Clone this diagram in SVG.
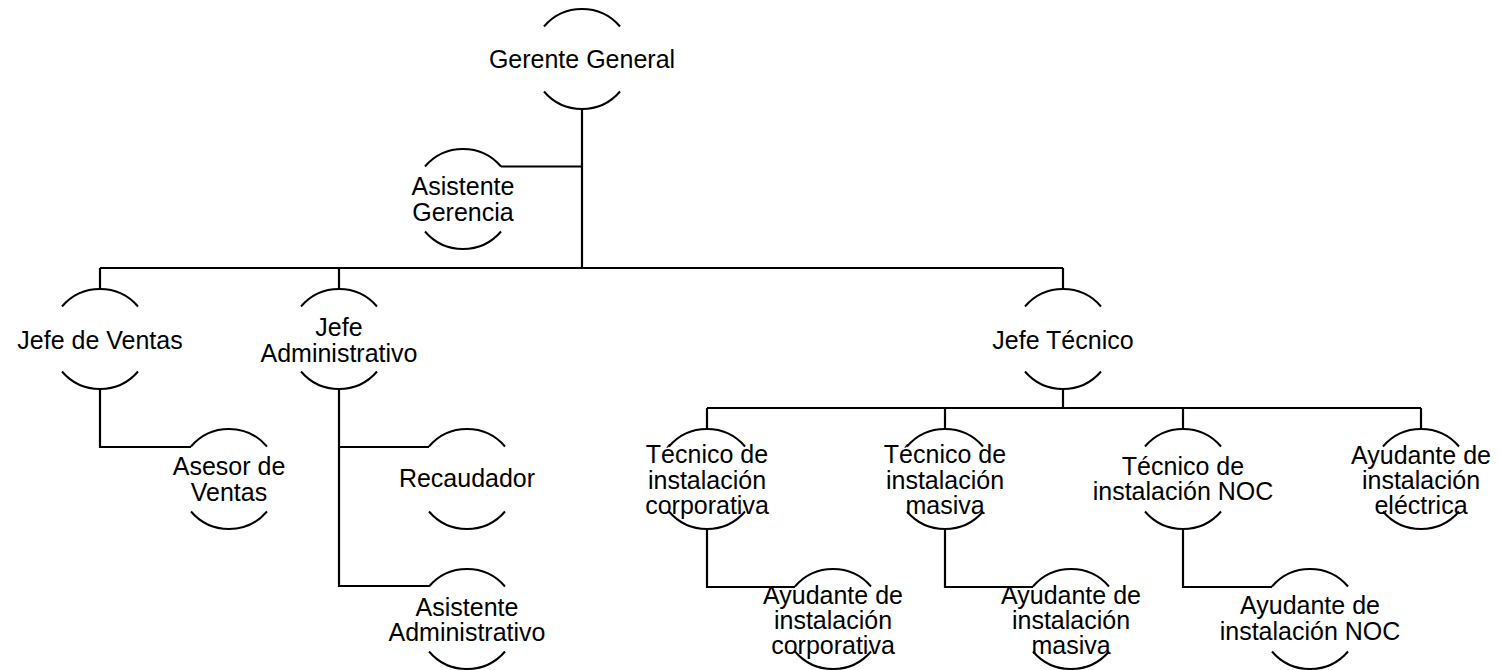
<svg xmlns="http://www.w3.org/2000/svg" xmlns:xlink="http://www.w3.org/1999/xlink" width="1499" height="670" viewBox="0 0 1499 670">
<style>
.arc{fill:none;stroke:#000;stroke-width:2}
.con{fill:none;stroke:#000;stroke-width:2.2}
text{font-family:"Liberation Sans",Arial,sans-serif;font-size:25px;fill:#000;text-anchor:middle}
</style>
<defs>
<path id="arcs" class="arc" d="M-38,-32.5 A50,50 0 0 1 38,-32.5 M-38,32.5 A50,50 0 0 0 38,32.5"/>
</defs>
<rect width="1499" height="670" fill="#fff"/>
<g id="connectors" class="con">
<path d="M582,109 V268"/>
<path d="M501,166.5 H582"/>
<path d="M100,268 H1063"/>
<path d="M100,268 V289 M339,268 V289 M1063,268 V289"/>
<path d="M100,389 V447 H191"/>
<path d="M339,389 V586 H429 M339,447 H429"/>
<path d="M1063,389 V408"/>
<path d="M707,408 H1421"/>
<path d="M707,408 V429 M945,408 V429 M1183,408 V429 M1421,408 V429"/>
<path d="M707,529 V587 H795 M945,529 V587 H1033 M1183,529 V587 H1272"/>
</g>
<g id="n-gerente"><use xlink:href="#arcs" transform="translate(582,59)"/><text x="582" y="68">Gerente General</text></g>
<g id="n-asist-gerencia"><use xlink:href="#arcs" transform="translate(463,199)"/><text x="463" y="195">Asistente</text><text x="463" y="221">Gerencia</text></g>
<g id="n-jefe-ventas"><use xlink:href="#arcs" transform="translate(100,339)"/><text x="100" y="349">Jefe de Ventas</text></g>
<g id="n-jefe-admin"><use xlink:href="#arcs" transform="translate(339,339)"/><text x="339" y="336">Jefe</text><text x="339" y="362">Administrativo</text></g>
<g id="n-jefe-tecnico"><use xlink:href="#arcs" transform="translate(1063,339)"/><text x="1063" y="349">Jefe Técnico</text></g>
<g id="n-asesor"><use xlink:href="#arcs" transform="translate(229,479)"/><text x="229" y="475">Asesor de</text><text x="229" y="501">Ventas</text></g>
<g id="n-recaudador"><use xlink:href="#arcs" transform="translate(467,479)"/><text x="467" y="487">Recaudador</text></g>
<g id="n-asist-admin"><use xlink:href="#arcs" transform="translate(467,619)"/><text x="467" y="616">Asistente</text><text x="467" y="641">Administrativo</text></g>
<g id="n-tec-corp"><use xlink:href="#arcs" transform="translate(707,479)"/><text x="707" y="463">Técnico de</text><text x="707" y="489">instalación</text><text x="707" y="514">corporativa</text></g>
<g id="n-tec-masiva"><use xlink:href="#arcs" transform="translate(945,479)"/><text x="945" y="463">Técnico de</text><text x="945" y="489">instalación</text><text x="945" y="514">masiva</text></g>
<g id="n-tec-noc"><use xlink:href="#arcs" transform="translate(1183,479)"/><text x="1183" y="475">Técnico de</text><text x="1183" y="500">instalación NOC</text></g>
<g id="n-ay-electrica"><use xlink:href="#arcs" transform="translate(1421,479)"/><text x="1421" y="464">Ayudante de</text><text x="1421" y="489">instalación</text><text x="1421" y="514">eléctrica</text></g>
<g id="n-ay-corp"><use xlink:href="#arcs" transform="translate(833,619)"/><text x="833" y="604">Ayudante de</text><text x="833" y="629">instalación</text><text x="833" y="654">corporativa</text></g>
<g id="n-ay-masiva"><use xlink:href="#arcs" transform="translate(1071,619)"/><text x="1071" y="604">Ayudante de</text><text x="1071" y="629">instalación</text><text x="1071" y="654">masiva</text></g>
<g id="n-ay-noc"><use xlink:href="#arcs" transform="translate(1310,619)"/><text x="1310" y="614">Ayudante de</text><text x="1310" y="640">instalación NOC</text></g>
</svg>
